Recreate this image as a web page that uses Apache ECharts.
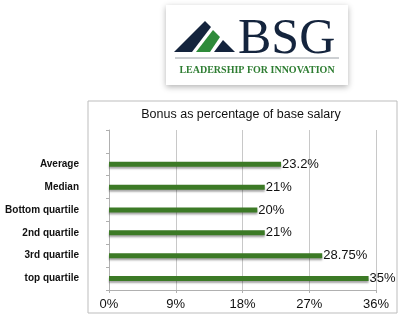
<!DOCTYPE html>
<html>
<head>
<meta charset="utf-8">
<script src="https://cdn.jsdelivr.net/npm/echarts@6/dist/echarts.min.js"></script>
<style>html,body{margin:0;padding:0;background:#fff;}#c{width:406px;height:322px;}</style>
</head>
<body>
<div id="c"></div>
<script>
const categories = ['Average', 'Median', 'Bottom quartile', '2nd quartile', '3rd quartile', 'top quartile'];
const values = [23.2, 21, 20, 21, 28.75, 35];
const labels = ['23.2%', '21%', '20%', '21%', '28.75%', '35%'];
const xTicks = [0, 9, 18, 27, 36];
const title = 'Bonus as percentage of base salary';

const yCats = [''].concat(categories);
const yVals = [null].concat(values);
const yLabels = [''].concat(labels);

const chart = echarts.init(document.getElementById('c'), null, {renderer: 'canvas'});
const navy = '#14243d';

chart.setOption({
  animation: false,
  backgroundColor: '#ffffff',
  title: {
    text: title, left: 236, top: 103, textAlign: 'center',
    textStyle: {fontFamily: 'Liberation Sans', fontSize: 12.5, fontWeight: 'normal', color: '#111'}
  },
  grid: {left: 109, right: 30, top: 130, bottom: 32, containLabel: false},
  xAxis: {
    type: 'value', min: xTicks[0], max: xTicks[xTicks.length - 1], interval: 9,
    axisLine: {show: true, lineStyle: {color: '#b0b0b0'}},
    axisTick: {show: true, length: 3, lineStyle: {color: '#b0b0b0'}},
    splitLine: {show: true, lineStyle: {color: '#c8c8c8'}},
    axisLabel: {formatter: '{value}%', margin: 8, fontFamily: 'Liberation Sans', fontSize: 13, color: '#111'}
  },
  yAxis: {
    type: 'category', data: yCats, inverse: true,
    axisLine: {show: true, lineStyle: {color: '#b0b0b0'}},
    axisTick: {show: true, length: 3, lineStyle: {color: '#b0b0b0'}},
    axisLabel: {margin: 30, fontFamily: 'Liberation Sans', fontSize: 10, fontWeight: 'bold', color: '#111'}
  },
  series: [{
    type: 'bar', data: yVals, barWidth: 5,
    itemStyle: {color: '#3c7a26', shadowColor: 'rgba(0,0,0,0.35)', shadowOffsetY: 2, shadowBlur: 2},
    label: {
      show: true, position: 'right', distance: 1,
      formatter: p => yLabels[p.dataIndex],
      fontFamily: 'Liberation Sans', fontSize: 13, color: '#111'
    }
  }],
  graphic: [
    {type: 'rect', shape: {x: 88, y: 101, width: 309, height: 212}, style: {fill: 'none', stroke: '#bdbdbd', lineWidth: 1}, z: -1},
    {type: 'rect', shape: {x: 166, y: 5, width: 182, height: 80}, style: {fill: '#fff', shadowColor: 'rgba(0,0,0,0.3)', shadowBlur: 6, shadowOffsetY: 2}, z: 1},
    {type: 'polygon', shape: {points: [[174, 52], [205, 21], [211, 27], [192, 52]]}, style: {fill: navy}, z: 2},
    {type: 'polygon', shape: {points: [[196, 52], [213, 30], [220, 37], [210, 52]]}, style: {fill: '#2e8b3a'}, z: 2},
    {type: 'polygon', shape: {points: [[214, 52], [223, 40], [235, 52]]}, style: {fill: navy}, z: 2},
    {type: 'text', style: {text: 'BSG', x: 238, y: 65, textVerticalAlign: 'bottom', font: '50px "Liberation Serif"', fill: navy}, z: 3},
    {type: 'line', shape: {x1: 175, y1: 58, x2: 339, y2: 58}, style: {stroke: '#9aa0a6', lineWidth: 1}, z: 3},
    {type: 'text', style: {text: 'LEADERSHIP FOR INNOVATION', x: 257, y: 70, textAlign: 'center', textVerticalAlign: 'middle', font: 'bold 10px "Liberation Serif"', fill: '#2e7d32'}, z: 3}
  ]
});
</script>
</body>
</html>
